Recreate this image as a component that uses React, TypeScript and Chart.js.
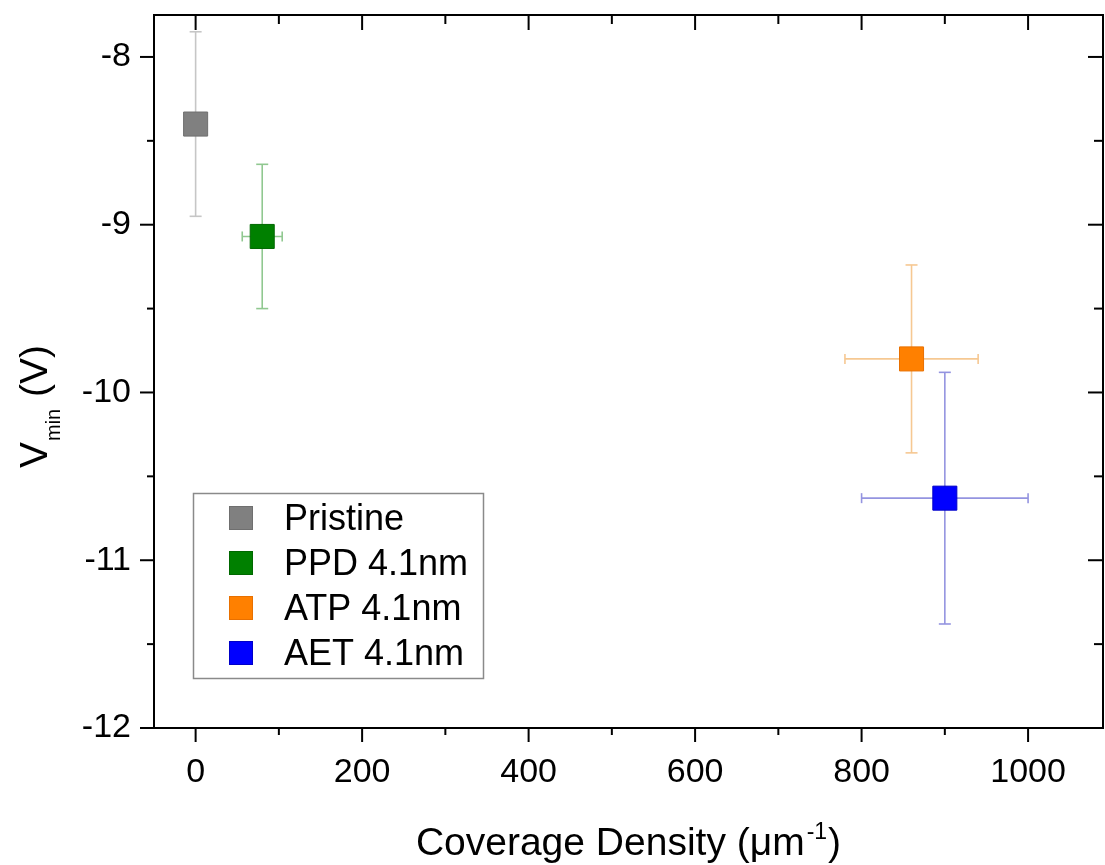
import React, { useEffect, useRef } from "react";
import { Chart, registerables } from "chart.js";

Chart.register(...registerables);

// ---- data ----
const seriesLabels = ["Pristine", "PPD 4.1nm", "ATP 4.1nm", "AET 4.1nm"];
const xValues = [0, 80, 860, 900];
const yValues = [-8.4, -9.07, -9.8, -10.63];
const xErrors = [0, 24, 80, 100];
const yErrors = [0.55, 0.43, 0.56, 0.75];

// ---- styles ----
const markerColors = ["#808080", "#008000", "#ff8000", "#0000ff"];
const markerBorders = ["#6f6f6f", "#006800", "#e87000", "#0000c8"];
const errorColors = ["#c6c6c6", "#90c890", "#f6c892", "#9494e0"];

const FONT = '"Liberation Sans", Arial, Helvetica, sans-serif';
const W = 1105;
const H = 865;

const zeroPad = (s: any) => {
  s.paddingTop = 0;
  s.paddingBottom = 0;
  s.paddingLeft = 0;
  s.paddingRight = 0;
};

const errorBarPlugin = {
  id: "errorBars",
  beforeDatasetsDraw(chart: any) {
    const { ctx } = chart;
    const xs = chart.scales.x;
    const ys = chart.scales.y;
    ctx.save();
    ctx.lineWidth = 1.6;
    const line = (a: number, b: number, c: number, d: number) => {
      ctx.beginPath();
      ctx.moveTo(a, b);
      ctx.lineTo(c, d);
      ctx.stroke();
    };
    for (let i = 0; i < xValues.length; i++) {
      ctx.strokeStyle = errorColors[i];
      const px = xs.getPixelForValue(xValues[i]);
      const py = ys.getPixelForValue(yValues[i]);
      if (yErrors[i]) {
        const t = ys.getPixelForValue(yValues[i] + yErrors[i]);
        const b = ys.getPixelForValue(yValues[i] - yErrors[i]);
        line(px, t, px, b);
        line(px - 6, t, px + 6, t);
        line(px - 6, b, px + 6, b);
      }
      if (xErrors[i]) {
        const l = xs.getPixelForValue(xValues[i] - xErrors[i]);
        const r = xs.getPixelForValue(xValues[i] + xErrors[i]);
        line(l, py, r, py);
        line(l, py - 5, l, py + 5);
        line(r, py - 5, r, py + 5);
      }
    }
    ctx.restore();
  },
};

const framePlugin = {
  id: "frameAndDecor",
  afterDraw(chart: any) {
    const { ctx, chartArea } = chart;
    const { left, right, top, bottom } = chartArea;
    const xs = chart.scales.x;
    const ys = chart.scales.y;
    ctx.save();
    ctx.strokeStyle = "#000";
    ctx.lineWidth = 2;
    ctx.strokeRect(left, top, right - left, bottom - top);
    const line = (a: number, b: number, c: number, d: number) => {
      ctx.beginPath();
      ctx.moveTo(a, b);
      ctx.lineTo(c, d);
      ctx.stroke();
    };
    // x ticks (bottom outward, top inward)
    xs.ticks.forEach((t: any) => {
      const v = t.value;
      const px = xs.getPixelForValue(v);
      const major = Math.abs(v % 200) < 1e-6;
      line(px, bottom, px, bottom + (major ? 14 : 7));
      line(px, top, px, top + (major ? 15 : 9));
    });
    // y ticks (left outward, right inward)
    ys.ticks.forEach((t: any) => {
      const v = t.value;
      const py = ys.getPixelForValue(v);
      const major = Math.abs(v - Math.round(v)) < 1e-6;
      line(left - (major ? 14 : 7), py, left, py);
      line(right - (major ? 15 : 9), py, right, py);
    });

    // legend
    const lx = left + 39;
    const ly = top + 478;
    ctx.strokeStyle = "#8a8a8a";
    ctx.lineWidth = 1.5;
    ctx.strokeRect(lx + 0.5, ly + 0.5, 290, 185);
    ctx.font = `36px ${FONT}`;
    ctx.textBaseline = "middle";
    ctx.textAlign = "left";
    chart.data.datasets.forEach((ds: any, i: number) => {
      const cy = ly + 25 + i * 45;
      ctx.fillStyle = ds.backgroundColor;
      ctx.fillRect(lx + 36, cy - 12, 24, 24);
      ctx.strokeStyle = ds.borderColor;
      ctx.lineWidth = 1;
      ctx.strokeRect(lx + 36.5, cy - 11.5, 23, 23);
      ctx.fillStyle = "#000";
      ctx.fillText(ds.label, lx + 91, cy + 2);
    });

    // x title with superscript
    ctx.fillStyle = "#000";
    ctx.textBaseline = "alphabetic";
    const mainF = `39px ${FONT}`;
    const supF = `23px ${FONT}`;
    const p1 = "Coverage Density (\u03bcm";
    const p2 = "-1";
    const p3 = ")";
    ctx.font = mainF;
    const w1 = ctx.measureText(p1).width;
    const w3 = ctx.measureText(p3).width;
    ctx.font = supF;
    const w2 = ctx.measureText(p2).width;
    const total = w1 + w2 + w3 + 3;
    const x0 = (left + right) / 2 - total / 2;
    const base = 855;
    ctx.font = mainF;
    ctx.fillText(p1, x0, base);
    ctx.font = supF;
    ctx.fillText(p2, x0 + w1 + 2, base - 16);
    ctx.font = mainF;
    ctx.fillText(p3, x0 + w1 + w2 + 3, base);

    // y title with subscript
    ctx.save();
    ctx.translate(47, 468);
    ctx.rotate(-Math.PI / 2);
    ctx.font = mainF;
    ctx.fillText("V", 0, 0);
    const wv = ctx.measureText("V").width;
    ctx.font = `20px ${FONT}`;
    ctx.fillText("min", wv + 1, 13);
    const wm = ctx.measureText("min").width;
    ctx.font = mainF;
    ctx.fillText(" (V)", wv + wm + 2, 0);
    ctx.restore();

    ctx.restore();
  },
};

export default function App() {
  const ref = useRef<HTMLCanvasElement | null>(null);
  useEffect(() => {
    if (!ref.current) return;
    const datasets = seriesLabels.map((label, i) => ({
      label,
      data: [{ x: xValues[i], y: yValues[i] }],
      backgroundColor: markerColors[i],
      borderColor: markerBorders[i],
      borderWidth: 1,
      pointStyle: "rect",
      pointRadius: 17,
      pointHoverRadius: 17,
      showLine: false,
    }));
    const chart = new Chart(ref.current, {
      type: "scatter",
      data: { datasets },
      options: {
        animation: false,
        responsive: false,
        events: [],
        layout: { autoPadding: false, padding: { left: 0, top: 15, right: 2, bottom: 0 } },
        plugins: {
          legend: { display: false },
          tooltip: { enabled: false },
        },
        scales: {
          x: {
            type: "linear",
            position: "bottom",
            min: -50,
            max: 1090,
            grid: { display: false, drawTicks: false },
            border: { display: false },
            ticks: {
              stepSize: 100,
              includeBounds: false,
              autoSkip: false,
              maxRotation: 0,
              padding: 24,
              color: "#000",
              font: { family: FONT, size: 34 },
              callback: (v: any) => (Math.abs(v % 200) < 1e-6 ? String(v) : ""),
            },
            afterFit: (s: any) => {
              s.height = H - 728;
              zeroPad(s);
            },
          },
          y: {
            type: "linear",
            position: "left",
            min: -12,
            max: -7.75,
            grid: { display: false, drawTicks: false },
            border: { display: false },
            ticks: {
              stepSize: 0.5,
              includeBounds: false,
              autoSkip: false,
              padding: 23,
              color: "#000",
              font: { family: FONT, size: 34 },
              callback: (v: any) =>
                Math.abs(v - Math.round(v)) < 1e-6 ? String(Math.round(v)) : "",
            },
            afterFit: (s: any) => {
              s.width = 154;
              zeroPad(s);
            },
          },
        },
      },
      plugins: [errorBarPlugin, framePlugin],
    } as any);
    return () => chart.destroy();
  }, []);
  return (
    <div style={{ position: "absolute", left: 0, top: 0, width: W, height: H, background: "#fff" }}>
      <canvas ref={ref} width={W} height={H} style={{ width: W, height: H, display: "block" }} />
    </div>
  );
}
